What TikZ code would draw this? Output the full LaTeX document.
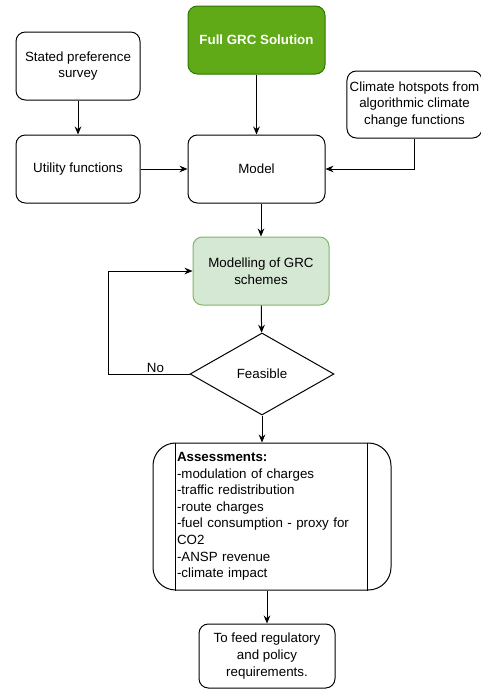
\documentclass[tikz,border=0pt]{standalone}
\usepackage{fontspec}
\setmainfont{Liberation Sans}
\usetikzlibrary{positioning,arrows.meta,shapes.geometric}
\definecolor{GRCGreen}{RGB}{96,169,23}
\definecolor{GRCDarkGreen}{RGB}{45,118,0}
\definecolor{GRCLightGreen}{RGB}{213,232,212}
\definecolor{GRCMidGreen}{RGB}{130,179,102}
\begin{document}
\begin{tikzpicture}[
x=0.75pt,y=-0.75pt,
box/.style={rectangle,rounded corners=7pt,draw,line width=0.75pt,
minimum width=93pt,minimum height=51pt,align=center,inner sep=2pt,font=\fontsize{10}{12.5}\selectfont},
widebox/.style={box,minimum width=102.75pt},
decision/.style={diamond,draw,line width=0.75pt,aspect=1.76,minimum width=108pt,minimum height=61.5pt,
inner sep=1pt,font=\fontsize{10}{12.5}\selectfont},
arrow/.style={-{Stealth[length=6pt,width=5pt]},line width=0.75pt}
]
\useasboundingbox (0,0) rectangle (481,690);
\node[widebox,fill=GRCGreen,draw=GRCDarkGreen,text=white,font=\fontsize{10}{12.5}\selectfont\bfseries] (full) at (256.5,40) {Full GRC Solution};
\node[box] (survey) at (78,66) {Stated preference\\survey};
\node[box,minimum width=99.75pt,minimum height=50.25pt] (climate) at (414.5,104.5) {Climate hotspots from\\algorithmic climate\\change functions};
\node[box] (utility) at (78,169) {Utility functions};
\node[widebox] (model) at (256.5,169) {Model};
\node[box,minimum width=102pt,fill=GRCLightGreen,draw=GRCMidGreen] (modgrc) at (261,271) {Modelling of GRC\\schemes};
\node[decision] (feas) at (262,374) {Feasible};
\node[rectangle,rounded corners=17pt,draw,line width=0.75pt,minimum width=178.5pt,minimum height=110.25pt,
text width=142.5pt,align=left,inner sep=0pt,font=\fontsize{10}{12.4}\selectfont] (assess) at (272,516.5)
{\textbf{Assessments:}\\-modulation of charges\\-traffic redistribution\\-route charges\\-fuel consumption - proxy for\\CO2\\-ANSP revenue\\-climate impact};
\draw[line width=0.75pt] ([xshift=17.25pt]assess.north west) -- ([xshift=17.25pt]assess.south west);
\draw[line width=0.75pt] ([xshift=-18pt]assess.north east) -- ([xshift=-18pt]assess.south east);
\node[box,minimum width=102pt,minimum height=48pt] (tofeed) at (267,656) {To feed regulatory\\and policy\\requirements.};
\draw[arrow] (survey) -- (utility);
\draw[arrow] (full) -- (model);
\draw[arrow] (utility) -- (model);
\draw[arrow] (climate.south) |- (model.east);
\draw[arrow] (model.south -| modgrc.north) -- (modgrc.north);
\draw[arrow] (modgrc) -- (feas);
\draw[arrow] (feas.west) -- ++(-81,0) node[pos=0.42,above,inner sep=1pt,font=\fontsize{10}{12.5}\selectfont] (nolbl) {No} |- (modgrc.west);
\draw[arrow] (feas.south) -- (feas.south |- assess.north);
\draw[arrow] (assess.south -| tofeed.north) -- (tofeed.north);
\end{tikzpicture}
\end{document}
